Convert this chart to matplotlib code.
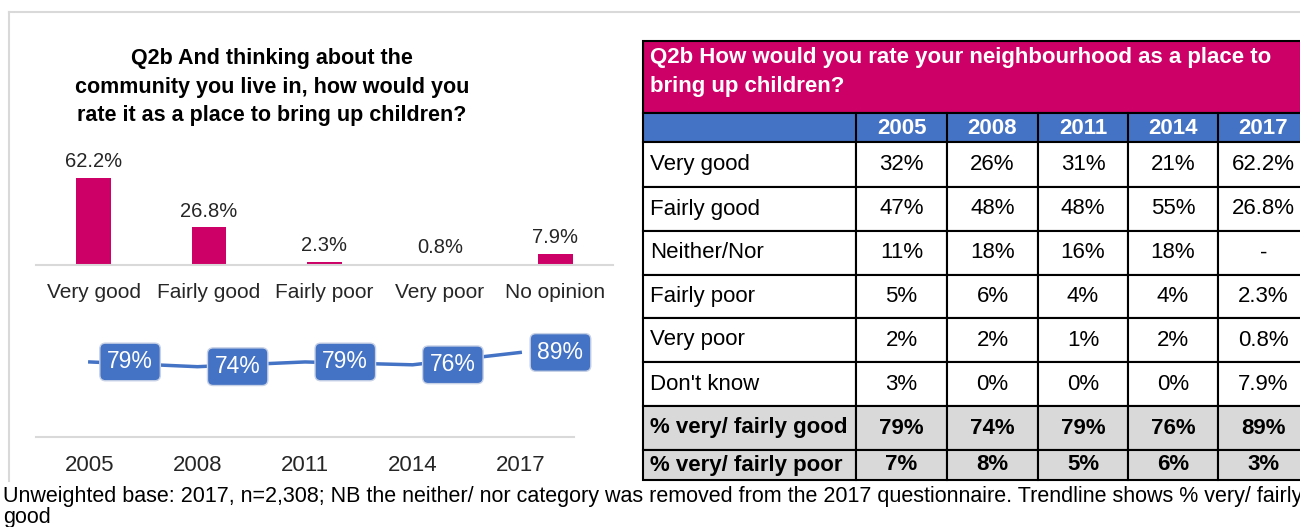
import numpy as np
import matplotlib
matplotlib.use('Agg')
import matplotlib.pyplot as plt
from matplotlib.patches import Rectangle

plt.rcParams['font.family'] = ['Liberation Sans', 'DejaVu Sans']

W, H = 1300, 527
MAGENTA = '#CC0066'
BLUE = '#4472C4'
GREY = '#D9D9D9'

# bar chart (2017 answers)
categories = ['Very good', 'Fairly good', 'Fairly poor', 'Very poor', 'No opinion']
values_2017 = [62.2, 26.8, 2.3, 0.8, 7.9]

# trend line of % very/ fairly good
years = ['2005', '2008', '2011', '2014', '2017']
pct_good = [79, 74, 79, 76, 89]

# table
row_labels = ['Very good', 'Fairly good', 'Neither/Nor', 'Fairly poor', 'Very poor',
              "Don't know", '% very/ fairly good', '% very/ fairly poor']
table_cells = [
    ['32%', '26%', '31%', '21%', '62.2%'],
    ['47%', '48%', '48%', '55%', '26.8%'],
    ['11%', '18%', '16%', '18%', '-'],
    ['5%', '6%', '4%', '4%', '2.3%'],
    ['2%', '2%', '1%', '2%', '0.8%'],
    ['3%', '0%', '0%', '0%', '7.9%'],
    ['79%', '74%', '79%', '76%', '89%'],
    ['7%', '8%', '5%', '6%', '3%'],
]
table_title = 'Q2b How would you rate your neighbourhood as a place to\nbring up children?'
chart_title = 'Q2b And thinking about the\ncommunity you live in, how would you\nrate it as a place to bring up children?'
footnote = ('Unweighted base: 2017, n=2,308; NB the neither/ nor category was removed from the '
            '2017 questionnaire. Trendline shows % very/ fairly\ngood')

fig = plt.figure(figsize=(W / 100, H / 100), dpi=100)


def px_axes(x0, y0, x1, y1):
    return fig.add_axes([x0 / W, 1 - y1 / H, (x1 - x0) / W, (y1 - y0) / H])


# background layer in pixel coordinates for frame, titles and table
bg = fig.add_axes([0, 0, 1, 1])
bg.set_xlim(0, W)
bg.set_ylim(H, 0)
bg.axis('off')

bg.plot([9, W], [12, 12], color=GREY, lw=1.5)
bg.plot([9, 9], [12, 481], color=GREY, lw=1.5)

bg.text(272, 87, chart_title, ha='center', va='center', fontsize=15.5,
        fontweight='bold', linespacing=1.45)

# bars
ax = px_axes(36, 140, 613, 265)
x = np.arange(len(categories))
ax.bar(x, values_2017, width=0.3, color=MAGENTA)
for xi, v in zip(x, values_2017):
    ax.annotate(f'{v}%', (xi, v), xytext=(0, 5), textcoords='offset points',
                ha='center', va='bottom', fontsize=14.5, color='#262626')
ax.set_xlim(-0.5, 4.5)
ax.set_ylim(0, 125 / 1.4)
ax.set_xticks(x)
ax.set_xticklabels(categories, fontsize=15, color='#262626')
ax.tick_params(axis='x', length=0, pad=13)
ax.set_yticks([])
for s in ['top', 'left', 'right']:
    ax.spines[s].set_visible(False)
ax.spines['bottom'].set_color(GREY)
ax.spines['bottom'].set_linewidth(1.5)
ax.patch.set_alpha(0)

# trend line
ax2 = px_axes(36, 342, 574, 437)
xl = np.arange(len(years))
ax2.plot(xl, pct_good, color=BLUE, lw=2.5, zorder=1)
for xi, v in zip(xl, pct_good):
    ax2.annotate(f'{v}%', (xi, v), xytext=(29, 0), textcoords='offset points',
                 ha='center', va='center', fontsize=16.5, color='white', zorder=3,
                 bbox=dict(boxstyle='round,pad=0.32,rounding_size=0.25', fc=BLUE,
                           ec='#C8D2E6', lw=1))
ax2.set_xlim(-0.5, 4.5)
ax2.set_ylim(0, 100)
ax2.set_xticks(xl)
ax2.set_xticklabels(years, fontsize=16, color='#262626')
ax2.tick_params(axis='x', length=0, pad=13)
ax2.set_yticks([])
for s in ['top', 'left', 'right']:
    ax2.spines[s].set_visible(False)
ax2.spines['bottom'].set_color(GREY)
ax2.spines['bottom'].set_linewidth(1.5)
ax2.patch.set_alpha(0)

# table on the right
col_edges = [643, 856, 947, 1038, 1128, 1218, 1309]
row_edges = [142, 187, 231, 275, 318, 362, 406, 450, 480]

bg.add_patch(Rectangle((643, 41), 1309 - 643, 113 - 41, fc=MAGENTA, ec='black', lw=1.5))
bg.text(650, 72, table_title, ha='left', va='center', fontsize=16, fontweight='bold',
        color='white', linespacing=1.5)

bg.add_patch(Rectangle((643, 113), 1309 - 643, 142 - 113, fc=BLUE, ec='black', lw=1.5))
for j, yr in enumerate(years):
    cx = (col_edges[j + 1] + col_edges[j + 2]) / 2
    bg.text(cx, 128, yr, ha='center', va='center', fontsize=16, fontweight='bold',
            color='white')
    bg.plot([col_edges[j + 1]] * 2, [113, 142], color='black', lw=1.5)

for i, lab in enumerate(row_labels):
    y0, y1 = row_edges[i], row_edges[i + 1]
    summary = i >= 6
    fc = GREY if summary else 'white'
    fw = 'bold' if summary else 'normal'
    for j in range(6):
        bg.add_patch(Rectangle((col_edges[j], y0), col_edges[j + 1] - col_edges[j], y1 - y0,
                               fc=fc, ec='black', lw=1.5))
    cy = (y0 + y1) / 2
    bg.text(650, cy, lab, ha='left', va='center', fontsize=16, fontweight=fw, color='black')
    for j, val in enumerate(table_cells[i]):
        cx = (col_edges[j + 1] + col_edges[j + 2]) / 2
        bg.text(cx, cy, val, ha='center', va='center', fontsize=16, fontweight=fw,
                color='black')

bg.text(3, 507, footnote, ha='left', va='center', fontsize=15.5, color='black',
        linespacing=1.05)

fig.savefig('out.png', dpi=100)
